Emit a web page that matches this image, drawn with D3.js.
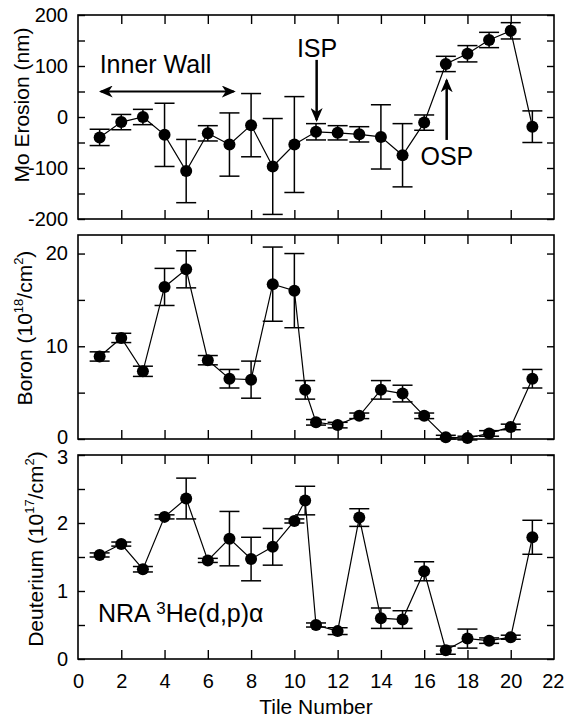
<!DOCTYPE html>
<html>
<head>
<meta charset="utf-8">
<script src="https://cdn.jsdelivr.net/npm/d3@7"></script>
<style>
  body { margin: 0; background: #fff; }
  svg { font-family: "Liberation Sans", Arial, sans-serif; }
  .axis text { font-size: 20px; fill: #000; }
  .axis line { stroke: #000; stroke-width: 1.4; }
</style>
</head>
<body>
<div id="chart"></div>
<script>
// tiles for the erosion panel (21 tiles) and for the boron / deuterium panels (extra point at 10.5)
const tilesMo = [1,2,3,4,5,6,7,8,9,10,11,12,13,14,15,16,17,18,19,20,21];
const moErosion = [-40,-10,0,-35,-106,-32,-54,-16,-97,-54,-29,-31,-34,-39,-75,-11,104,124,151,169,-19];
const moErr = [16,15,15,62,62,15,62,62,94,94,16,14,15,63,62,15,15,16,15,16,31];

const tilesNRA = [1,2,3,4,5,6,7,8,9,10,10.5,11,12,13,14,15,16,17,18,19,20,21];
const boron = [8.9,10.9,7.3,16.4,18.3,8.5,6.5,6.4,16.7,16.0,5.3,1.8,1.5,2.5,5.3,4.9,2.5,0.2,0.1,0.6,1.3,6.5];
const boronErr = [0.5,0.5,0.55,2,2,0.5,1,2,4,4,1,0.3,0.3,0.3,1,0.9,0.3,0.2,0.2,0.3,0.3,1];
const deuterium = [1.53,1.69,1.32,2.09,2.36,1.45,1.77,1.47,1.65,2.03,2.33,0.50,0.41,2.08,0.60,0.58,1.29,0.13,0.30,0.27,0.32,1.79];
const deutErr = [0.03,0.03,0.04,0.03,0.3,0.03,0.4,0.32,0.27,0.03,0.21,0.03,0.05,0.13,0.15,0.13,0.14,0.06,0.14,0.04,0.03,0.25];

const xTicks = [0,2,4,6,8,10,12,14,16,18,20,22];

const margin = {left: 78, right: 10};
const W = 564, H = 719;
const width = 554 - margin.left;
const panelH = 204;

const svg = d3.select('#chart').append('svg')
    .attr('width', W).attr('height', H);

svg.append('defs').append('marker')
    .attr('id', 'head')
    .attr('viewBox', '0 -6 14 12')
    .attr('refX', 12).attr('refY', 0)
    .attr('markerUnits', 'userSpaceOnUse')
    .attr('markerWidth', 14).attr('markerHeight', 12)
    .attr('orient', 'auto-start-reverse')
    .append('path')
    .attr('d', 'M0,-6 L14,0 L0,6 L4,0 Z')
    .attr('fill', '#000');

const x = d3.scaleLinear().domain([0, 22]).range([0, width]);

const panels = [
  {top: 15, tiles: tilesMo, vals: moErosion, errs: moErr, domain: [-200, 200], major: 100, minor: 50,
   label: [{t: 'Mo Erosion (nm)'}], labelX: 29, labelShift: -12},
  {top: 235, tiles: tilesNRA, vals: boron, errs: boronErr, domain: [0, 22], major: 10, minor: 5,
   label: [{t: 'Boron (10'}, {t: '18', sup: true}, {t: '/cm'}, {t: '2', sup: true}, {t: ')'}], labelX: 32, labelShift: -9},
  {top: 455, tiles: tilesNRA, vals: deuterium, errs: deutErr, domain: [0, 3], major: 1, minor: 0.5,
   label: [{t: 'Deuterium (10'}, {t: '17', sup: true}, {t: '/cm'}, {t: '2', sup: true}, {t: ')'}], labelX: 43, labelShift: -8}
];

const scales = [];

panels.forEach((p, i) => {
  const g = svg.append('g').attr('transform', `translate(${margin.left},${p.top})`);
  const y = d3.scaleLinear().domain(p.domain).range([panelH, 0]);
  scales.push(y);

  const majors = d3.range(p.domain[0], p.domain[1] + 1e-9, p.major);
  const minors = d3.range(p.domain[0], p.domain[1] + 1e-9, p.minor);

  // y ticks, inward on both sides
  const yl = g.append('g').attr('class', 'axis')
    .call(d3.axisLeft(y).tickValues(minors).tickSizeInner(-7).tickSizeOuter(0).tickPadding(10)
      .tickFormat(d => majors.some(m => Math.abs(m - d) < 1e-9) ? String(d) : ''))
    .call(a => a.select('.domain').remove());
  // keep the stacked end labels (boron 0 / deuterium 3) from touching
  if (i === 1) yl.selectAll('text').filter(d => d === 0).attr('y', -2);
  if (i === 2) yl.selectAll('text').filter(d => d === 3).attr('y', 2);

  g.append('g').attr('class', 'axis')
    .attr('transform', `translate(${width},0)`)
    .call(d3.axisRight(y).tickValues(minors).tickSizeInner(-7).tickSizeOuter(0).tickFormat(''))
    .call(a => a.select('.domain').remove());

  // x ticks, inward on top and bottom
  g.append('g').attr('class', 'axis')
    .call(d3.axisTop(x).tickValues(xTicks.slice(1, -1)).tickSizeInner(-9).tickSizeOuter(0).tickFormat(''))
    .call(a => a.select('.domain').remove());
  const xb = g.append('g').attr('class', 'axis')
    .attr('transform', `translate(0,${panelH})`)
    .call(d3.axisBottom(x).tickValues(xTicks).tickSizeInner(-9).tickSizeOuter(0).tickPadding(15)
      .tickFormat(i === 2 ? d => String(d) : ''))
    .call(a => a.select('.domain').remove());
  xb.selectAll('line').filter(d => d === 0 || d === 22).remove();
  xb.selectAll('text').filter(d => d === 22).attr('text-anchor', 'end').attr('dx', 10);

  g.append('rect')
    .attr('width', width).attr('height', panelH)
    .attr('fill', 'none').attr('stroke', '#000').attr('stroke-width', 1.6);

  const pts = p.tiles.map((t, k) => ({t: t, v: p.vals[k], e: p.errs[k]}));

  g.append('path')
    .datum(pts)
    .attr('fill', 'none').attr('stroke', '#000').attr('stroke-width', 1.2)
    .attr('d', d3.line().x(d => x(d.t)).y(d => y(d.v)));

  const eb = g.selectAll('.err').data(pts).enter().append('g')
    .attr('stroke', '#000').attr('stroke-width', 1.5);
  eb.append('line')
    .attr('x1', d => x(d.t)).attr('x2', d => x(d.t))
    .attr('y1', d => y(d.v - d.e)).attr('y2', d => y(d.v + d.e));
  eb.append('line')
    .attr('x1', d => x(d.t) - 10).attr('x2', d => x(d.t) + 10)
    .attr('y1', d => y(d.v + d.e)).attr('y2', d => y(d.v + d.e));
  eb.append('line')
    .attr('x1', d => x(d.t) - 10).attr('x2', d => x(d.t) + 10)
    .attr('y1', d => y(d.v - d.e)).attr('y2', d => y(d.v - d.e));

  g.selectAll('circle').data(pts).enter().append('circle')
    .attr('cx', d => x(d.t)).attr('cy', d => y(d.v)).attr('r', 6)
    .attr('fill', '#000');

  // y label
  const lab = svg.append('text')
    .attr('transform', `translate(${p.labelX},${p.top + panelH / 2 + p.labelShift}) rotate(-90)`)
    .attr('text-anchor', 'middle')
    .attr('font-size', 21);
  p.label.forEach(s => {
    const ts = lab.append('tspan').text(s.t);
    if (s.sup) ts.attr('font-size', 13).attr('dy', -9);
    else if (lab.selectAll('tspan').size() > 1) ts.attr('dy', 9);
  });
});

// x axis title
svg.append('text')
  .attr('x', margin.left + width / 2).attr('y', 714)
  .attr('text-anchor', 'middle').attr('font-size', 21)
  .text('Tile Number');

// annotations in the erosion panel
const gMo = svg.append('g').attr('transform', `translate(${margin.left},${panels[0].top})`);
const yMo = scales[0];

gMo.append('text')
  .attr('x', x(1)).attr('y', yMo(86))
  .attr('font-size', 25).text('Inner Wall');
gMo.append('line')
  .attr('x1', x(1.05)).attr('x2', x(7.2))
  .attr('y1', yMo(50)).attr('y2', yMo(50))
  .attr('stroke', '#000').attr('stroke-width', 2)
  .attr('marker-start', 'url(#head)').attr('marker-end', 'url(#head)');

gMo.append('text')
  .attr('x', x(11.05)).attr('y', yMo(118))
  .attr('text-anchor', 'middle').attr('font-size', 25).text('ISP');
gMo.append('line')
  .attr('x1', x(11.03)).attr('x2', x(11.03))
  .attr('y1', yMo(112)).attr('y2', yMo(-6))
  .attr('stroke', '#000').attr('stroke-width', 2.5)
  .attr('marker-end', 'url(#head)');

gMo.append('text')
  .attr('x', x(17.05)).attr('y', yMo(-94))
  .attr('text-anchor', 'middle').attr('font-size', 25).text('OSP');
gMo.append('line')
  .attr('x1', x(17.04)).attr('x2', x(17.04))
  .attr('y1', yMo(-45)).attr('y2', yMo(72))
  .attr('stroke', '#000').attr('stroke-width', 2.5)
  .attr('marker-end', 'url(#head)');

// NRA note in the deuterium panel
const gD = svg.append('g').attr('transform', `translate(${margin.left},${panels[2].top})`);
const nra = gD.append('text')
  .attr('x', x(0.92)).attr('y', scales[2](0.54))
  .attr('font-size', 25);
nra.append('tspan').text('NRA ');
nra.append('tspan').text('3').attr('font-size', 17).attr('dy', -8);
nra.append('tspan').text('He(d,p)α').attr('dy', 8);
</script>
</body>
</html>
